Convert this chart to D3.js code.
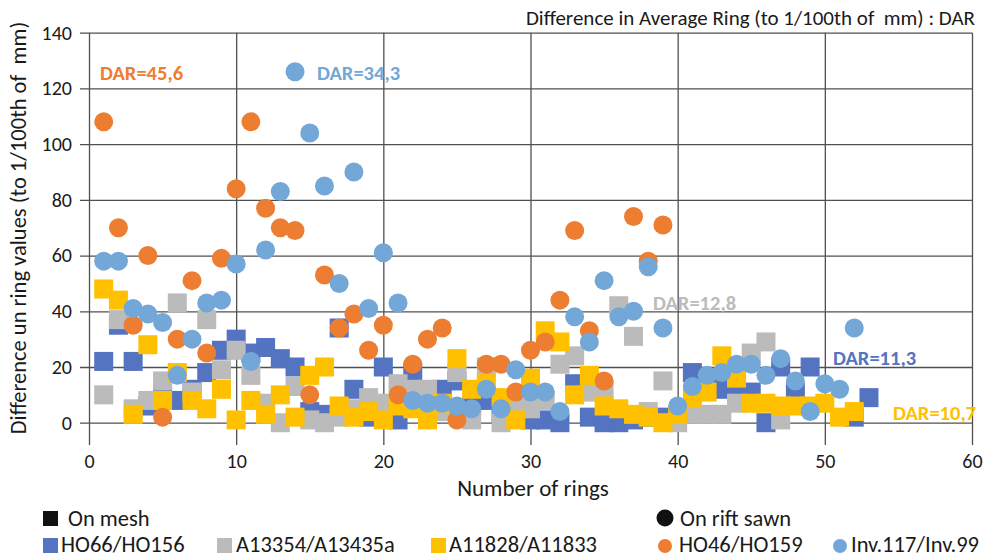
<!DOCTYPE html>
<html>
<head>
<meta charset="utf-8">
<script src="https://cdn.jsdelivr.net/npm/d3@7"></script>
<style>
  body { margin: 0; background: #fff; }
  text { font-family: Carlito, Lato, "Open Sans", sans-serif; fill: #1a1a1a; }
</style>
</head>
<body>
<script>
// ring numbers (x categories)
var rings = [1,2,3,4,5,6,7,8,9,10,11,12,13,14,15,16,17,18,19,20,21,22,23,24,25,26,27,
  28,29,30,31,32,33,34,35,36,37,38,39,40,41,42,43,44,45,46,47,48,49,50,51,52,53];

// on mesh (squares)
var ho66 = [22,35,22,6,10,8,12,18,26,30,25,27,23,20,4,3,34,12,2,20,1,18,10,12,15,6,8,
  3,5,1,1,0,14,2,0,0,1,2,2,null,18,null,12,13,11,0,20,11,20,null,null,2,9];
var a13354 = [10,37,5,8,15,43,11,37,19,26,17,7,0,13,1,0,2,5,9,7,14,12,12,4,18,1,20,
  0,5,5,8,21,24,11,12,42,31,4,15,0,3,3,3,7,25,29,1,null,null,null,null,null,null];
var a11828 = [48,44,3,28,8,18,8,5,12,1,8,3,10,2,17,20,6,2,4,1,6,5,1,7,23,12,14,
  9,1,16,33,29,10,17,6,5,3,2,0,3,9,11,24,16,7,7,6,6,6,7,2,4,null];
// on rift sawn (circles)
var ho46 = [108,70,35,60,2,30,51,25,59,84,108,77,70,69,10,53,34,39,26,35,10,21,30,34,1,null,21,
  21,11,26,29,44,69,33,15,null,74,58,71,null,null,null,null,null,null,null,null,null,null,null,null,null,null];
var inv117 = [58,58,41,39,36,17,30,43,44,57,22,62,83,126,104,85,50,90,41,61,43,8,7,7,6,5,12,
  5,19,11,11,4,38,29,51,38,40,56,34,6,13,17,18,21,21,17,23,15,4,14,12,34,null];

var xTicks = [0,10,20,30,40,50,60];
var yTicks = [0,20,40,60,80,100,120,140];

var series = [
  {name: "HO66/HO156", values: ho66, color: "#5473c0", shape: "square"},
  {name: "A13354/A13435a", values: a13354, color: "#bbbbbb", shape: "square"},
  {name: "A11828/A11833", values: a11828, color: "#ffc000", shape: "square"},
  {name: "HO46/HO159", values: ho46, color: "#ed7d31", shape: "circle"},
  {name: "Inv.117/Inv.99", values: inv117, color: "#72a7d8", shape: "circle"}
];

var dars = [
  {text: "DAR=45,6", color: "#ed7d31", x: 100, y: 80},
  {text: "DAR=34,3", color: "#72a7d8", x: 317, y: 80},
  {text: "DAR=12,8", color: "#bbbbbb", x: 653, y: 310},
  {text: "DAR=11,3", color: "#5473c0", x: 833, y: 365},
  {text: "DAR=10,7", color: "#ffc000", x: 893, y: 420}
];

var W = 990, H = 558;
var plotL = 89, plotR = 972, plotT = 32.7, plotB = 445;

var svg = d3.select("body").append("svg")
  .attr("width", W)
  .attr("height", H);

var x = d3.scaleLinear().domain([0, 60]).range([plotL, plotR]);
var y = d3.scaleLinear().domain([-8, 140]).range([plotB, plotT]);

// y axis + horizontal grid
var yAxis = svg.append("g")
  .attr("transform", "translate(80,0)")
  .call(d3.axisLeft(y).tickValues(yTicks).tickSize(-(plotR - 80)).tickPadding(8));
yAxis.select(".domain").remove();
yAxis.selectAll("line").attr("stroke", "#505050").attr("stroke-width", 1.3);
yAxis.selectAll("text").style("font-size", "20px").attr("fill", "#1a1a1a");

// x axis + vertical grid
var xAxis = svg.append("g")
  .attr("transform", "translate(0," + plotB + ")")
  .call(d3.axisBottom(x).tickValues(xTicks).tickSize(-(plotB - plotT)).tickPadding(9));
xAxis.select(".domain").remove();
xAxis.selectAll("line").attr("stroke", "#505050").attr("stroke-width", 1.3);
xAxis.selectAll("text").style("font-size", "20px").attr("fill", "#1a1a1a");

// points
var size = 19;
series.forEach(function(s) {
  var pts = rings.map(function(r, i) { return {r: r, v: s.values[i]}; })
    .filter(function(d) { return d.v != null; });
  if (s.shape == "square") {
    svg.append("g").selectAll("rect")
      .data(pts)
      .enter().append("rect")
      .attr("x", function(d) { return x(d.r) - size/2; })
      .attr("y", function(d) { return y(d.v) - size/2; })
      .attr("width", size)
      .attr("height", size)
      .attr("fill", s.color);
  } else {
    svg.append("g").selectAll("circle")
      .data(pts)
      .enter().append("circle")
      .attr("cx", function(d) { return x(d.r); })
      .attr("cy", function(d) { return y(d.v); })
      .attr("r", size/2)
      .attr("fill", s.color);
  }
});

// DAR labels
svg.selectAll(".dar")
  .data(dars)
  .enter().append("text")
  .attr("x", function(d) { return d.x; })
  .attr("y", function(d) { return d.y; })
  .style("font-size", "20.5px")
  .style("font-weight", "bold")
  .style("fill", function(d) { return d.color; })
  .text(function(d) { return d.text; });

// titles
svg.append("text")
  .attr("x", 975).attr("y", 25)
  .attr("text-anchor", "end")
  .style("font-size", "21px")
  .text("Difference in Average Ring (to 1/100th of \u00a0mm) : DAR");

svg.append("text")
  .attr("x", 533).attr("y", 496)
  .attr("text-anchor", "middle")
  .style("font-size", "23px")
  .text("Number of rings");

svg.append("text")
  .attr("transform", "translate(26,228) rotate(-90)")
  .attr("text-anchor", "middle")
  .style("font-size", "22.5px")
  .text("Difference un ring values (to 1/100th of \u00a0mm)");

// legend
var leg = svg.append("g");
leg.append("rect").attr("x", 43).attr("y", 511).attr("width", 15).attr("height", 15).attr("fill", "#111");
leg.append("text").attr("x", 68).attr("y", 526).style("font-size", "22.5px").text("On mesh");
leg.append("circle").attr("cx", 665).attr("cy", 518).attr("r", 8.5).attr("fill", "#111");
leg.append("text").attr("x", 680).attr("y", 526).style("font-size", "22.5px").text("On rift sawn");

var legPos = [43, 217, 431, 665, 840];
var legText = [61, 236, 449, 679, 851];
series.forEach(function(s, i) {
  if (s.shape == "square") {
    leg.append("rect").attr("x", legPos[i]).attr("y", 538).attr("width", 15).attr("height", 15).attr("fill", s.color);
  } else {
    leg.append("circle").attr("cx", legPos[i]).attr("cy", 546).attr("r", 7).attr("fill", s.color);
  }
  leg.append("text").attr("x", legText[i]).attr("y", 552).style("font-size", "22.5px").text(s.name);
});
</script>
</body>
</html>
